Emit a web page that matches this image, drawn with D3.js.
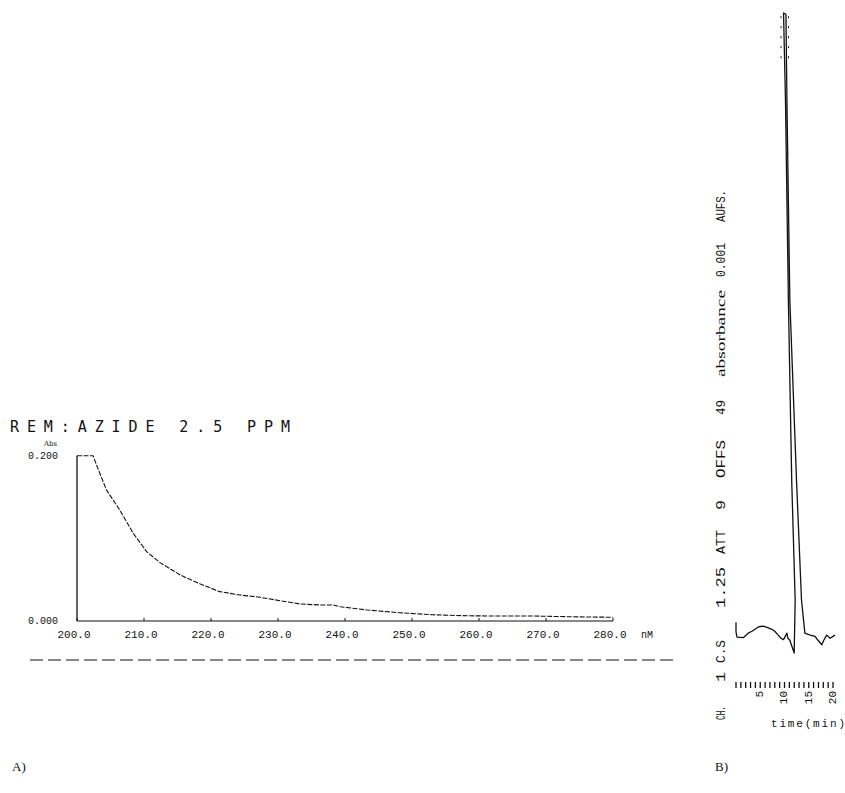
<!DOCTYPE html>
<html><head><meta charset="utf-8">
<script src="https://cdn.jsdelivr.net/npm/d3@7"></script>
<style>html,body{margin:0;padding:0;background:#fff}svg{display:block}</style>
</head><body>
<svg id="c" width="845" height="793"></svg>
<script>
// ---- Panel A: UV spectrum ----
const titleA = "REM:AZIDE 2.5 PPM";
const wavelength = [200,202.4,202.9,204.4,206.4,208.4,210.4,212.4,215.4,218.4,221.3,224.3,227.3,230.3,233.3,236.3,238.2,239.3,243.3,248.2,253.1,258.2,263.1,268.1,273.1,280];
const absorb     = [0.2,0.2,0.189,0.1585,0.134,0.106,0.0839,0.0706,0.0557,0.0448,0.0355,0.0315,0.0287,0.0246,0.0206,0.0194,0.0194,0.0173,0.0133,0.010,0.0075,0.0063,0.006,0.006,0.0052,0.0045];
const xTicksA = [200,210,220,230,240,250,260,270,280];
const yTicksA = [0.0,0.2];

// ---- Panel B: chromatogram ----
const timeMin = [0,0,0.2,1.5,2.5,3.3,3.9,4.7,5.6,6.4,7.4,8.0,8.7,9.3,9.8,10.5,10.7,11.1,12.0,12.2,11.5,10.8,10.2,9.8,10.3,10.5,11.1,12.5,13.5,14.2,15.3,16.3,16.9,17.7,18.1,18.7,19.4,20.4];
const signal  = [5.1,3.6,2.8,2.7,3.4,3.7,4.0,4.4,4.5,4.3,4.0,3.7,3.1,2.6,2.4,3.4,2.6,2.3,0.3,8.6,26.8,55.3,86.4,100,99.8,86.4,55.3,26.8,8.6,3.4,3.1,2.9,2.3,1.6,2.3,3.1,2.6,3.1];
const timeTickLabels = [5,10,15,20];
const instrText = ["CH.","1","C.S","1.25","ATT","9","OFFS","49","absorbance","0.001","AUFS."];

const svg = d3.select("#c");
const ink = "#111";

// scales A
const xA = d3.scaleLinear().domain([200,280]).range([77,613]);
const yA = d3.scaleLinear().domain([0,0.2]).range([621,455.7]);

// title
svg.append("text").attr("x",10).attr("y",432).attr("textLength",280).attr("lengthAdjust","spacing")
  .style("font-family","DejaVu Sans Mono").style("font-size","15px").attr("fill",ink).text(titleA);
svg.append("text").attr("x",44).attr("y",446).style("font-family","DejaVu Serif").style("font-size","7px").attr("fill",ink).text("Abs");

// axes A
svg.append("line").attr("x1",xA(200)).attr("x2",xA(200)).attr("y1",yA(0)).attr("y2",yA(0.2)).attr("stroke",ink).attr("stroke-width",1.3);
svg.append("line").attr("x1",xA(200)).attr("x2",xA(280)).attr("y1",yA(0)).attr("y2",yA(0)).attr("stroke",ink).attr("stroke-width",1.2);
svg.selectAll(".xt").data(xTicksA).enter().append("line")
  .attr("x1",d=>xA(d)).attr("x2",d=>xA(d)).attr("y1",yA(0)).attr("y2",yA(0)-3).attr("stroke",ink);
svg.selectAll(".xl").data(xTicksA).enter().append("text")
  .attr("x",d=>xA(d)-3).attr("y",638).attr("text-anchor","middle")
  .style("font-family","Liberation Mono").style("font-size","11px").attr("fill",ink)
  .text(d=>d3.format(".1f")(d));
svg.append("text").attr("x",641).attr("y",638).style("font-family","Liberation Mono").style("font-size","10px").attr("fill",ink).text("nM");
svg.selectAll(".yl").data(yTicksA).enter().append("text")
  .attr("x",58).attr("y",d=>yA(d)+3).attr("text-anchor","end")
  .style("font-family","Liberation Mono").style("font-size","10px").attr("fill",ink)
  .text(d=>d3.format(".3f")(d));

// spectrum curve
const lineA = d3.line().x(d=>xA(d[0])).y(d=>yA(d[1]));
svg.append("path").datum(d3.zip(wavelength,absorb)).attr("d",lineA)
  .attr("fill","none").attr("stroke",ink).attr("stroke-width",1.1).attr("stroke-dasharray","5,1.5");

// dashed separator line
svg.append("line").attr("x1",30).attr("x2",675).attr("y1",660).attr("y2",660)
  .attr("stroke",ink).attr("stroke-width",1.2).attr("stroke-dasharray","13,5");

svg.append("text").attr("x",12).attr("y",771).style("font-family","Liberation Serif").style("font-size","13px").attr("fill",ink).text("A)");
svg.append("text").attr("x",715).attr("y",771).style("font-family","Liberation Serif").style("font-size","13px").attr("fill",ink).text("B)");

// ---- Panel B ----
const xB = d3.scaleLinear().domain([0,20]).range([736,833]);
const yB = d3.scaleLinear().domain([0,100]).range([655,13]);
const lineB = d3.line().x(d=>xB(d[0])).y(d=>yB(d[1]));
svg.append("path").datum(d3.zip(timeMin,signal)).attr("d",lineB)
  .attr("fill","none").attr("stroke",ink).attr("stroke-width",1.3).attr("stroke-linejoin","round");

// integration marks near the peak top
[-2.5,5].forEach(dx=>{
  svg.append("line").attr("x1",xB(9.8)+dx).attr("x2",xB(9.8)+dx)
    .attr("y1",yB(99.5)).attr("y2",yB(92)).attr("stroke",ink).attr("stroke-width",1).attr("stroke-dasharray","2,8");
});

// time ticks
svg.selectAll(".tt").data(d3.range(0,21)).enter().append("line")
  .attr("x1",d=>xB(d)).attr("x2",d=>xB(d)).attr("y1",682).attr("y2",688).attr("stroke",ink).attr("stroke-width",1.3);
svg.selectAll(".tl").data(timeTickLabels).enter().append("text")
  .attr("transform",d=>`translate(${xB(d)-1},691) rotate(-90)`).attr("text-anchor","end").attr("dy","0.35em")
  .style("font-family","Liberation Mono").style("font-size","11px").attr("fill",ink).text(d=>d);
svg.append("text").attr("x",771).attr("y",727).attr("textLength",74).attr("lengthAdjust","spacing")
  .style("font-family","Liberation Mono").style("font-size","11px").attr("fill",ink).text("time(min)");

// rotated instrument settings text
const segPos = [[720,706],[682,672],[663,640],[608,567],[554,530],[510,500],[478,440],[415,400],[377,290],[277,243],[222,190]];
instrText.forEach((t,i)=>{
  const [y0,y1] = segPos[i];
  svg.append("text").attr("transform",`translate(725,${y0}) rotate(-90)`)
    .attr("textLength",y0-y1).attr("lengthAdjust","spacingAndGlyphs")
    .style("font-family", t==="absorbance" ? "Liberation Serif" : "Liberation Mono")
    .style("font-size","12px").attr("fill",ink).text(t);
});
</script>
</body></html>
